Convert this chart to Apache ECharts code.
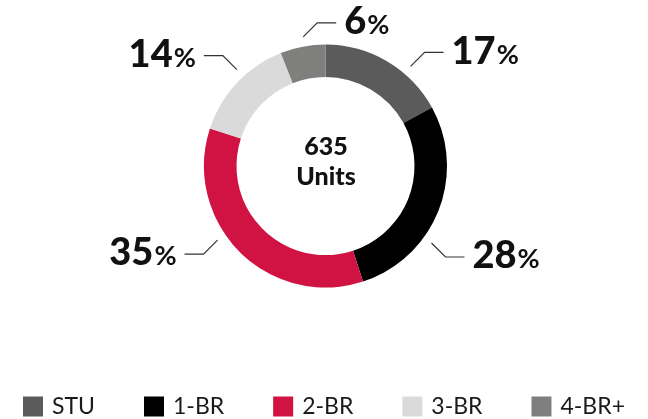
<!DOCTYPE html>
<html>
<head>
<meta charset="utf-8">
<script src="https://cdn.jsdelivr.net/npm/echarts@6/dist/echarts.min.js"></script>
<style>
  html, body { margin: 0; padding: 0; background: #fff; }
</style>
</head>
<body>
<div id="main" style="width: 648px;height: 419px"></div>

<script type="text/javascript">
    // data
    var categories = ['STU', '1-BR', '2-BR', '3-BR', '4-BR+'];
    var shares = [17, 28, 35, 14, 6];
    var totalUnits = 635;

    // styles
    var colors = ['#5b5b5b', '#000000', '#d01342', '#d9dad9', '#7f807e'];
    var cx = 325.5, cy = 166;
    // where each leader line leaves the ring (degrees clockwise from 12 o'clock) and which side its label sits
    var leadAngle = [40.5, 126, 235.5, 317.4, 350.2];
    var leadSide = [1, 1, -1, -1, 1];

    function polar(r, deg) {
        var a = deg * Math.PI / 180;
        return [cx + r * Math.sin(a), cy - r * Math.cos(a)];
    }

    var myChart = echarts.init(document.getElementById('main'));

    var option = {
        animation: false,
        color: colors,
        graphic: [{
            type: 'text',
            x: 326,
            y: 162,
            style: {
                text: totalUnits + '\nUnits',
                align: 'center',
                verticalAlign: 'middle',
                textAlign: 'center',
                textVerticalAlign: 'middle',
                fontFamily: 'Lato',
                fontWeight: 900,
                fontSize: 25,
                lineHeight: 30,
                fill: '#111'
            }
        }],
        legend: {
            data: categories,
            left: 'center',
            top: 390,
            icon: 'rect',
            itemWidth: 20,
            itemHeight: 20,
            itemGap: 49,
            selectedMode: false,
            textStyle: {
                fontFamily: 'Lato',
                fontSize: 23,
                color: '#1a1a1a',
                padding: [0, 0, 0, 4]
            }
        },
        series: [{
            type: 'pie',
            center: [cx, cy],
            radius: [89, 121.5],
            startAngle: 90,
            clockwise: true,
            silent: true,
            data: categories.map(function (c, i) {
                return { name: c, value: shares[i] };
            }),
            label: {
                show: true,
                position: 'outside',
                formatter: '{n|{c}}{p|%}',
                color: '#111',
                rich: {
                    n: { fontFamily: 'Lato', fontWeight: 900, fontSize: 38, color: '#111', verticalAlign: 'bottom' },
                    p: { fontFamily: 'Lato', fontWeight: 'bold', fontSize: 27, color: '#111', verticalAlign: 'bottom', padding: [0, 0, 2, 1] }
                }
            },
            labelLine: {
                show: true,
                lineStyle: { color: '#333', width: 1.2 }
            },
            labelLayout: function (p) {
                var i = p.dataIndex;
                var side = leadSide[i];
                var p1 = polar(131, leadAngle[i]);
                var up = Math.cos(leadAngle[i] * Math.PI / 180) > 0 ? -1 : 1;
                var p2 = [p1[0] + side * 14, p1[1] + up * 14];
                var p3 = [p2[0] + side * 19, p2[1]];
                return {
                    x: p3[0] + side * 8,
                    y: p3[1] - 1,
                    align: side > 0 ? 'left' : 'right',
                    verticalAlign: 'middle',
                    labelLinePoints: [p1, p2, p3]
                };
            }
        }]
    };

    myChart.setOption(option);
</script>
</body>
</html>
